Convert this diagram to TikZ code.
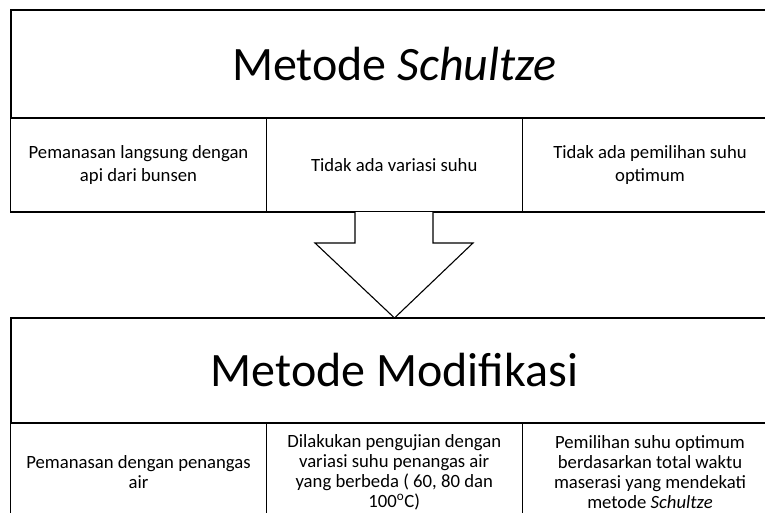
\documentclass[tikz,border=0pt]{standalone}
\usepackage{fontspec}
\setmainfont{Carlito}
\begin{document}
\begin{tikzpicture}[x=1pt,y=-1pt,
  frame/.style={draw=black, line width=1.1pt, inner sep=0pt, outer sep=0pt},
  cell/.style={frame, minimum width=255.7pt, minimum height=94pt, align=center,
    font=\fontsize{18.7}{22.8}\selectfont},
  tightcell/.style={cell, minimum height=98pt, font=\fontsize{18.7}{20}\selectfont},
  titlecell/.style={frame, minimum width=767pt, align=center,
    font=\fontsize{48}{52}\selectfont},
  bigarrow/.style={draw=black, line width=1.1pt, fill=white, line join=miter}]
\useasboundingbox (0,0) rectangle (765,513);
\clip (0,0) rectangle (765,513);
% top box
\node[titlecell, minimum height=108pt] (t1) at (394.5,64) {Metode \textit{Schultze}};
\node[cell] (t2) at (138.5,165) {Pemanasan langsung dengan\\api dari bunsen};
\node[cell] (t3) at (394.2,165) {Tidak ada variasi suhu};
\node[cell] (t4) at (650,165) {Tidak ada pemilihan suhu\\optimum};
% bottom box
\node[titlecell, minimum height=105pt] (b1) at (394.5,370.5) {Metode Modifikasi};
\node[tightcell] (b2) at (138.5,472) {Pemanasan dengan penangas\\air};
\node[tightcell] (b3) at (394.2,472) {Dilakukan pengujian dengan\\variasi suhu penangas air\\yang berbeda ( 60, 80 dan\\100\textsuperscript{o}C)};
\node[tightcell] (b4) at (650,472) {Pemilihan suhu optimum\\berdasarkan total waktu\\maserasi yang mendekati\\metode \textit{Schultze}};
% arrow from top box to bottom box
\coordinate (tip) at (b1.north);
\path[bigarrow] (355,212) -- (355,243) -- (315,243) -- (tip) -- (473,243) -- (433,243) -- (433,212);
\end{tikzpicture}
\end{document}
